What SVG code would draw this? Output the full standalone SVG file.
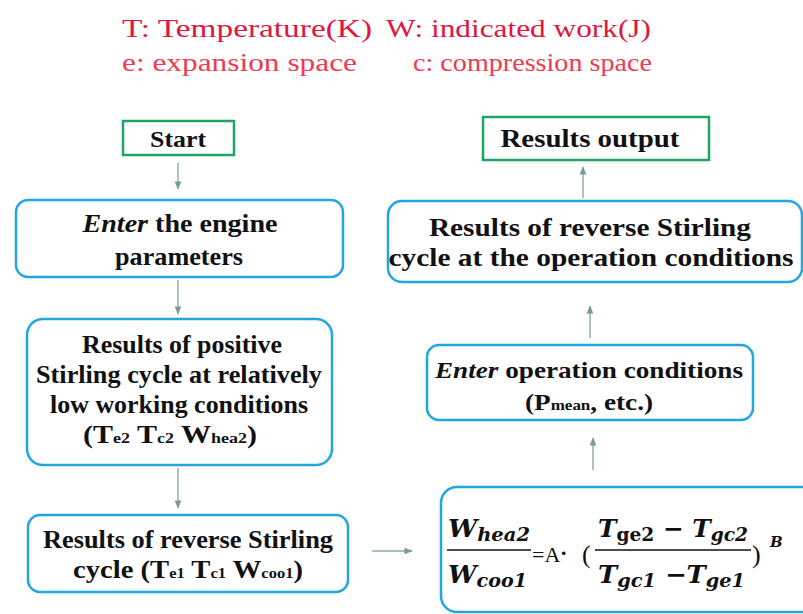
<svg xmlns="http://www.w3.org/2000/svg" width="803" height="614" viewBox="0 0 803 614">
<style>
.bg{fill:#ffffff}
.g{fill:#ffffff;stroke:#1fa463;stroke-width:2.5}
.b{fill:#ffffff;stroke:#22a6e0;stroke-width:2.5}
.t{font-family:"Liberation Serif","Times New Roman",serif;font-weight:bold;fill:#111111;text-anchor:middle}
.i{font-style:italic}
.hd{font-family:"Liberation Serif","Times New Roman",serif;font-size:26px}
.r1{fill:#e0163e}
.r2{fill:#f03a4f}
.c{stroke:#8aa9a9;stroke-width:1.4;fill:none;marker-end:url(#ah)}
.f{font-family:"DejaVu Serif",serif;font-weight:bold;font-style:italic;fill:#111111}
.fu{font-family:"Liberation Serif","Times New Roman",serif;fill:#111111}
</style>
<defs>
<marker id="ah" viewBox="0 0 10 10" refX="9" refY="5" markerWidth="6" markerHeight="6" orient="auto">
<path d="M0,1 L10,5 L0,9 z" fill="#7a9a9a"/>
</marker>
</defs>
<rect class="bg" x="0" y="0" width="803" height="614"/>
<g id="legend">
<text class="hd r1" x="122" y="37" textLength="250" lengthAdjust="spacingAndGlyphs">T:  Temperature(K)</text>
<text class="hd r1" x="386" y="37" textLength="265" lengthAdjust="spacingAndGlyphs">W: indicated work(J)</text>
<text class="hd r2" x="122" y="71" textLength="235" lengthAdjust="spacingAndGlyphs">e: expansion space</text>
<text class="hd r2" x="413" y="71" textLength="239" lengthAdjust="spacingAndGlyphs">c: compression space</text>
</g>
<g id="connectors">
<line class="c" x1="178" y1="163" x2="178" y2="189"/>
<line class="c" x1="178" y1="280" x2="178" y2="314"/>
<line class="c" x1="178" y1="468" x2="178" y2="508"/>
<line class="c" x1="372" y1="551" x2="412" y2="551"/>
<line class="c" x1="593" y1="470" x2="593" y2="438"/>
<line class="c" x1="590" y1="338" x2="590" y2="306"/>
<line class="c" x1="583" y1="198" x2="583" y2="167"/>
</g>
<g id="start">
<rect class="g" x="123" y="121" width="111" height="34"/>
<text class="t" x="178" y="147" font-size="23" textLength="56" lengthAdjust="spacingAndGlyphs">Start</text>
</g>
<g id="enter-engine">
<rect class="b" x="16" y="200" width="327" height="77" rx="12"/>
<text class="t" x="180" y="232" font-size="25" textLength="195" lengthAdjust="spacingAndGlyphs"><tspan class="i">Enter</tspan> the engine</text>
<text class="t" x="179" y="265" font-size="25" textLength="128" lengthAdjust="spacingAndGlyphs">parameters</text>
</g>
<g id="positive-cycle">
<rect class="b" x="27" y="319" width="305" height="146" rx="16"/>
<text class="t" x="182" y="353" font-size="25" textLength="200" lengthAdjust="spacingAndGlyphs">Results of positive</text>
<text class="t" x="179" y="383" font-size="25" textLength="286" lengthAdjust="spacingAndGlyphs">Stirling cycle at relatively</text>
<text class="t" x="179" y="413" font-size="25" textLength="258" lengthAdjust="spacingAndGlyphs">low working conditions</text>
<text class="t" x="170" y="443" font-size="25" textLength="174" lengthAdjust="spacingAndGlyphs">(T<tspan font-size="15">e2</tspan> T<tspan font-size="15">c2</tspan> W<tspan font-size="15">hea2</tspan>)</text>
</g>
<g id="reverse-cycle">
<rect class="b" x="28" y="515" width="320" height="77" rx="12"/>
<text class="t" x="188" y="548" font-size="26" textLength="290" lengthAdjust="spacingAndGlyphs">Results of reverse Stirling</text>
<text class="t" x="188" y="578" font-size="26" textLength="230" lengthAdjust="spacingAndGlyphs">cycle (T<tspan font-size="15">e1</tspan> T<tspan font-size="15">c1</tspan> W<tspan font-size="15">coo1</tspan>)</text>
</g>
<g id="formula">
<rect class="b" x="441" y="487" width="380" height="125" rx="16"/>
<text class="f" x="448" y="537" font-size="24" textLength="82" lengthAdjust="spacingAndGlyphs">W<tspan font-size="18" dy="4">hea2</tspan></text>
<line x1="447" y1="550" x2="531" y2="550" stroke="#111" stroke-width="1.6"/>
<text class="f" x="448" y="583" font-size="24" textLength="79" lengthAdjust="spacingAndGlyphs">W<tspan font-size="18" dy="4">coo1</tspan></text>
<text class="fu" x="532" y="562" font-size="22">=A</text>
<text class="fu" x="560" y="560" font-size="22" font-weight="bold">·</text>
<text class="fu" x="582" y="563" font-size="26">(</text>
<text class="f" x="598" y="537" font-size="24" textLength="150" lengthAdjust="spacingAndGlyphs">T<tspan font-size="18" dy="4" font-style="normal">ge2</tspan><tspan dy="-4" font-style="normal"> − </tspan>T<tspan font-size="18" dy="4">gc2</tspan></text>
<line x1="595" y1="550" x2="751" y2="550" stroke="#111" stroke-width="1.6"/>
<text class="f" x="598" y="583" font-size="24" textLength="147" lengthAdjust="spacingAndGlyphs">T<tspan font-size="18" dy="4">gc1</tspan><tspan dy="-4" font-style="normal"> −</tspan>T<tspan font-size="18" dy="4">ge1</tspan></text>
<text class="fu" x="752" y="563" font-size="26">)</text>
<text class="f" x="770" y="547" font-size="15">B</text>
</g>
<g id="enter-operation">
<rect class="b" x="427" y="345" width="326" height="75" rx="12"/>
<text class="t" x="589" y="378" font-size="24" textLength="308" lengthAdjust="spacingAndGlyphs"><tspan class="i">Enter</tspan> operation conditions</text>
<text class="t" x="589" y="410" font-size="24" textLength="128" lengthAdjust="spacingAndGlyphs">(P<tspan font-size="15">mean</tspan>, etc.)</text>
</g>
<g id="reverse-operation">
<rect class="b" x="388" y="201" width="414" height="81" rx="14"/>
<text class="t" x="590" y="236" font-size="26" textLength="322" lengthAdjust="spacingAndGlyphs">Results of reverse Stirling</text>
<text class="t" x="591" y="266" font-size="26" textLength="405" lengthAdjust="spacingAndGlyphs">cycle at the operation conditions</text>
</g>
<g id="results-output">
<rect class="g" x="483" y="117" width="226" height="43"/>
<text class="t" x="590" y="147" font-size="25" textLength="179" lengthAdjust="spacingAndGlyphs">Results output</text>
</g>
</svg>
